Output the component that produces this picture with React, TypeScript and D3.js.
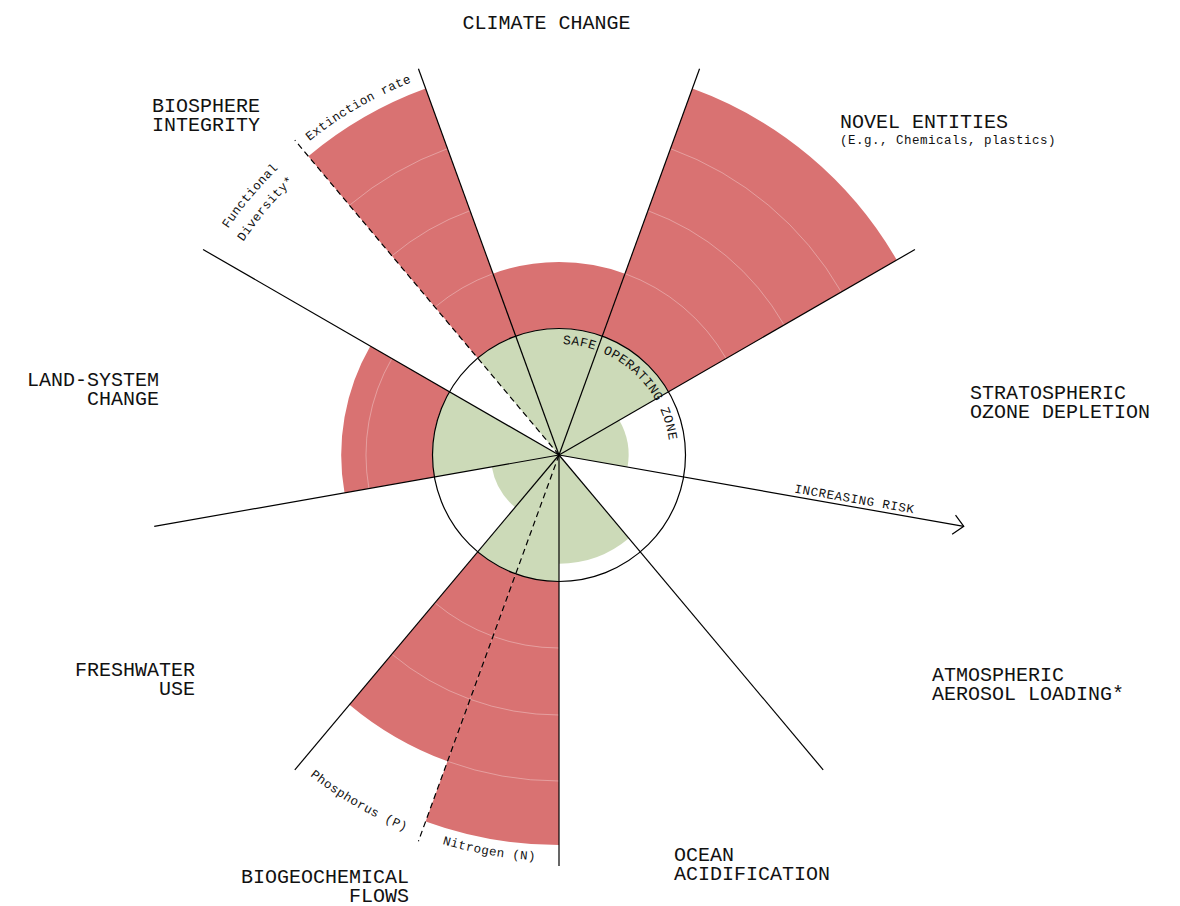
import React from "react";
import * as d3 from "d3";

const WIDTH = 1180;
const HEIGHT = 906;
const CX = 559;
const CY = 455;
const FONT = "'Liberation Mono', 'DejaVu Sans Mono', monospace";

// Nine planetary boundaries (categories) going clockwise from the top
const categories = [
  "CLIMATE CHANGE",
  "NOVEL ENTITIES",
  "STRATOSPHERIC OZONE DEPLETION",
  "ATMOSPHERIC AEROSOL LOADING*",
  "OCEAN ACIDIFICATION",
  "BIOGEOCHEMICAL FLOWS",
  "FRESHWATER USE",
  "LAND-SYSTEM CHANGE",
  "BIOSPHERE INTEGRITY",
];
const categoryLabelLines = [
  ["CLIMATE CHANGE"],
  ["NOVEL ENTITIES"],
  ["STRATOSPHERIC", "OZONE DEPLETION"],
  ["ATMOSPHERIC", "AEROSOL LOADING*"],
  ["OCEAN", "ACIDIFICATION"],
  ["BIOGEOCHEMICAL", "FLOWS"],
  ["FRESHWATER", "USE"],
  ["LAND-SYSTEM", "CHANGE"],
  ["BIOSPHERE", "INTEGRITY"],
];
const categorySubtitle = ["", "(E.g., Chemicals, plastics)", "", "", "", "", "", "", ""];

// Control variables (some categories hold two)
const variableNames = [
  "Climate change",
  "Novel entities",
  "Stratospheric ozone",
  "Aerosol loading",
  "Ocean acidification",
  "Nitrogen (N)",
  "Phosphorus (P)",
  "Freshwater use",
  "Land-system change",
  "Functional Diversity*",
  "Extinction rate",
];
const variableCategory = [0, 1, 2, 3, 4, 5, 5, 6, 7, 8, 8];
// value in boundary units (1 = safe operating limit); null = not quantified
const variableValue: (number | null)[] = [2.0, 5.0, 0.55, null, 0.86, 5.0, 4.0, 0.54, 2.37, null, 5.0];
const variableSubLabel = ["", "", "", "", "", "Nitrogen (N)", "Phosphorus (P)", "", "", "Functional|Diversity*", "Extinction rate"];

const ringValues = [2, 3, 4];
const radialDomain = [0, 1, 2, 3, 4, 5];

// layout (positions of the category titles)
const labelLayout = [
  { x: 546.5, y: 29, anchor: "middle" },
  { x: 840, y: 128, anchor: "start" },
  { x: 970, y: 399, anchor: "start" },
  { x: 932, y: 681, anchor: "start" },
  { x: 674, y: 861, anchor: "start" },
  { x: 409, y: 883, anchor: "end" },
  { x: 195, y: 676, anchor: "end" },
  { x: 159, y: 386, anchor: "end" },
  { x: 152, y: 112, anchor: "start" },
];
const LINE_GAP = 19.2;

const RED = "#d97272";
const GREEN = "#ccdab8";

const angleScale = d3
  .scaleLinear()
  .domain([0, categories.length])
  .range([-Math.PI / 9, 2 * Math.PI - Math.PI / 9]);
const rScale = d3.scaleLinear().domain(radialDomain).range([0, 126.5, 193, 260, 326, 390]);
const AXIS_R = 411;

function pt(angle: number, r: number): [number, number] {
  return [CX + r * Math.sin(angle), CY - r * Math.cos(angle)];
}

function variableAngles(i: number): [number, number] {
  const c = variableCategory[i];
  const siblings = variableCategory.map((v, k) => (v === c ? k : -1)).filter((k) => k >= 0);
  const idx = siblings.indexOf(i);
  const a0 = angleScale(c);
  const a1 = angleScale(c + 1);
  const step = (a1 - a0) / siblings.length;
  return [a0 + idx * step, a0 + (idx + 1) * step];
}

function arcTextPath(center: number, r: number, half: number, bottom: boolean): string {
  const a = center - half;
  const b = center + half;
  if (!bottom) {
    const [x0, y0] = pt(a, r);
    const [x1, y1] = pt(b, r);
    return `M${x0},${y0} A${r},${r} 0 0 1 ${x1},${y1}`;
  }
  const [x0, y0] = pt(b, r);
  const [x1, y1] = pt(a, r);
  return `M${x0},${y0} A${r},${r} 0 0 0 ${x1},${y1}`;
}

export default function App() {
  const arcGen = d3.arc<any>();
  const deg = Math.PI / 180;

  const greens: JSX.Element[] = [];
  const reds: JSX.Element[] = [];
  const rings: JSX.Element[] = [];
  variableValue.forEach((v, i) => {
    if (v === null) return;
    const [a0, a1] = variableAngles(i);
    greens.push(
      <path
        key={"g" + i}
        d={arcGen({ innerRadius: 0, outerRadius: rScale(Math.min(v, 1)), startAngle: a0, endAngle: a1 }) as string}
        fill={GREEN}
        transform={`translate(${CX},${CY})`}
      />
    );
    if (v > 1) {
      reds.push(
        <path
          key={"r" + i}
          d={arcGen({ innerRadius: rScale(1), outerRadius: rScale(v), startAngle: a0, endAngle: a1 }) as string}
          fill={RED}
          transform={`translate(${CX},${CY})`}
        />
      );
      ringValues.forEach((rv) => {
        if (v > rv) {
          const p = d3.path();
          p.arc(CX, CY, rScale(rv), a0 - Math.PI / 2, a1 - Math.PI / 2);
          rings.push(
            <path key={"ring" + i + "-" + rv} d={p.toString()} fill="none" stroke="rgba(255,255,255,0.4)" strokeWidth={0.8} />
          );
        }
      });
    }
  });

  const axes = categories.map((_, c) => {
    const a = angleScale(c);
    const [x, y] = pt(a, AXIS_R);
    return <line key={"ax" + c} x1={CX} y1={CY} x2={x} y2={y} stroke="#000" strokeWidth={1.2} />;
  });

  // dashed dividers inside categories with two variables
  const dashed: JSX.Element[] = [];
  categories.forEach((_, c) => {
    const members = variableCategory.filter((v) => v === c).length;
    if (members > 1) {
      const a = (angleScale(c) + angleScale(c + 1)) / 2;
      const [x, y] = pt(a, AXIS_R);
      dashed.push(
        <line key={"d" + c} x1={CX} y1={CY} x2={x} y2={y} stroke="#000" strokeWidth={1.2} strokeDasharray="6,4" />
      );
    }
  });

  // arrow on the "increasing risk" axis
  const arrowA = angleScale(3);
  const [tx, ty] = pt(arrowA, AXIS_R);
  const dirAng = arrowA - Math.PI / 2; // screen angle
  const head = 14;
  const h1 = [tx - head * Math.cos(dirAng - 44 * deg), ty - head * Math.sin(dirAng - 44 * deg)];
  const h2 = [tx - head * Math.cos(dirAng + 44 * deg), ty - head * Math.sin(dirAng + 44 * deg)];
  const [rx, ry] = pt(arrowA, 238);
  const perp = 4;
  const riskX = rx + perp * Math.sin(dirAng);
  const riskY = ry - perp * Math.cos(dirAng);

  // sub labels
  const subLabels: JSX.Element[] = [];
  const defs: JSX.Element[] = [];
  variableSubLabel.forEach((lab, i) => {
    if (!lab) return;
    const [a0, a1] = variableAngles(i);
    const mid = (a0 + a1) / 2;
    const bottom = Math.cos(mid) < 0;
    const lines = lab.split("|");
    lines.forEach((ln, j) => {
      const r = bottom ? 406 + j * 20 : 401 - j * 20;
      const id = `sub-${i}-${j}`;
      defs.push(<path key={id} id={id} d={arcTextPath(mid, r, 30 * deg, bottom)} fill="none" />);
      subLabels.push(
        <text key={"t" + id} fontFamily={FONT} fontSize={12.5} letterSpacing={0.4} fill="#111">
          <textPath href={"#" + id} startOffset="50%" textAnchor="middle">
            {ln}
          </textPath>
        </text>
      );
    });
  });

  // safe operating zone path
  const safeR = 111;
  const [s0x, s0y] = pt(0, safeR);
  const [s1x, s1y] = pt(Math.PI / 2, safeR);
  defs.push(<path key="safe" id="safe-path" d={`M${s0x},${s0y} A${safeR},${safeR} 0 0 1 ${s1x},${s1y}`} fill="none" />);

  return (
    <svg
      width={WIDTH}
      height={HEIGHT}
      style={{ position: "absolute", left: 0, top: 0, display: "block", background: "#fff" }}
    >
      <defs>{defs}</defs>
      <rect x={0} y={0} width={WIDTH} height={HEIGHT} fill="#fff" />
      {greens}
      {reds}
      {rings}
      <circle cx={CX} cy={CY} r={rScale(1)} fill="none" stroke="#000" strokeWidth={1.2} />
      {axes}
      {dashed}
      <polyline
        points={`${h1[0]},${h1[1]} ${tx},${ty} ${h2[0]},${h2[1]}`}
        fill="none"
        stroke="#000"
        strokeWidth={1.2}
      />
      <text
        x={riskX}
        y={riskY}
        fontFamily={FONT}
        fontSize={12.5}
        letterSpacing={0.6}
        fill="#111"
        transform={`rotate(${(dirAng * 180) / Math.PI},${riskX},${riskY})`}
      >
        INCREASING RISK
      </text>
      <text fontFamily={FONT} fontSize={13} letterSpacing={0.4} fill="#111">
        <textPath href="#safe-path" startOffset={4}>
          SAFE OPERATING ZONE
        </textPath>
      </text>
      {subLabels}
      {categoryLabelLines.map((lines, c) => {
        const L = labelLayout[c];
        return (
          <g key={"lab" + c}>
            {lines.map((ln, j) => (
              <text
                key={j}
                x={L.x}
                y={L.y + j * LINE_GAP}
                fontFamily={FONT}
                fontSize={20}
                fill="#111"
                textAnchor={L.anchor as any}
              >
                {ln}
              </text>
            ))}
            {categorySubtitle[c] && (
              <text x={L.x} y={L.y + 16} fontFamily={FONT} fontSize={12.5} letterSpacing={0.5} fill="#111">
                {categorySubtitle[c]}
              </text>
            )}
          </g>
        );
      })}
    </svg>
  );
}
